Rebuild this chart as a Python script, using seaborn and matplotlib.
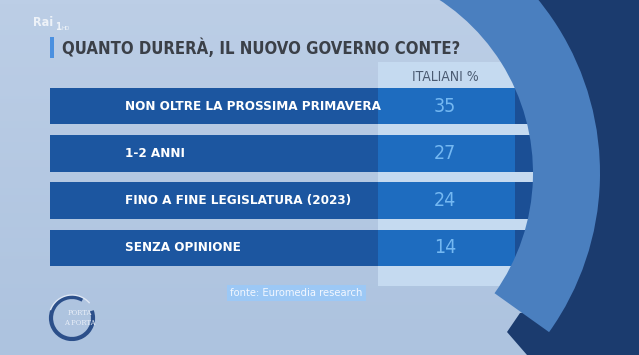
import numpy as np
import pandas as pd
import seaborn as sns
import matplotlib.pyplot as plt
from matplotlib.patches import Wedge, Rectangle, Polygon, Arc

# dati del sondaggio
categories = ['NON OLTRE LA PROSSIMA PRIMAVERA', '1-2 ANNI',
              'FINO A FINE LEGISLATURA (2023)', 'SENZA OPINIONE']
values = [35, 27, 24, 14]
title = 'QUANTO DURERÀ, IL NUOVO GOVERNO CONTE?'
col_header = 'ITALIANI %'
source = 'fonte: Euromedia research'

df = pd.DataFrame({'categoria': categories, 'italiani': values})

W, H = 639, 355
sns.set_theme(style='white')
plt.rcParams['font.family'] = ['DejaVu Sans']
plt.rcParams['font.stretch'] = 'condensed'

fig = plt.figure(figsize=(W / 100, H / 100), dpi=100)

# sfondo in coordinate pixel
bg = fig.add_axes([0, 0, 1, 1], zorder=0)
grad = np.linspace(0, 1, 100).reshape(-1, 1)
bg.imshow(grad, extent=[0, W, H, 0], aspect='auto',
          cmap=sns.blend_palette(['#bccee6', '#adc3df'], as_cmap=True))
bg.add_patch(Rectangle((378, 62), 200, 224, color='#c5daf0', lw=0))
bg.set_xlim(0, W)
bg.set_ylim(H, 0)
bg.axis('off')

# tabella: righe disegnate con seaborn
tab = fig.add_axes([50 / W, 1 - 271.6 / H, (W - 50) / W, 189.2 / H], zorder=1)
tab.patch.set_alpha(0)
n = len(df)
for ext, col in [(520, '#1b4f95'), (465, '#1e6cbf'), (328, '#1c56a0')]:
    sns.barplot(y=df['categoria'], x=[ext] * n, orient='h', color=col,
                width=0.78, saturation=1, linewidth=0, ax=tab)
tab.set_xlim(0, W - 50)
tab.set_ylim(n - 0.5, -0.5)
tab.axis('off')
for i, (lab, v) in enumerate(zip(df['categoria'], df['italiani'])):
    tab.text(75, i, lab, color='white', fontsize=9.6, fontweight='bold',
             va='center', ha='left')
    tab.text(395, i, str(v), color='#74b8f2', fontsize=14,
             va='center', ha='center')

# elementi grafici sopra
ov = fig.add_axes([0, 0, 1, 1], zorder=2)
ov.patch.set_alpha(0)
ov.set_xlim(0, W)
ov.set_ylim(H, 0)
ov.axis('off')
c = (326, 173)
ov.add_patch(Wedge(c, 1000, -90, 35.5, width=750, color='#1b3b6e', lw=0))
ov.add_patch(Polygon([(520, 313), (507, 332), (527, 355), (W, 355), (W, 300)],
                     color='#1b3b6e', lw=0))
ov.add_patch(Wedge(c, 274, -100, 35.5, width=67, color='#4a7fbf', lw=0))

ov.text(445, 77, col_header, color='#4b5b72', fontsize=10, ha='center', va='center')

# titolo
ov.add_patch(Rectangle((50, 37), 4, 21, color='#4a90e0', lw=0))
ov.text(62, 48, title, color='#3b4048', fontsize=12, fontweight='bold',
        ha='left', va='center')
ov.text(33, 22, 'Rai', color='white', alpha=0.75, fontsize=9, fontweight='bold',
        ha='left', va='center')
ov.text(55, 27, '1', color='white', alpha=0.75, fontsize=7, fontweight='bold',
        ha='left', va='center')
ov.text(61, 28, 'HD', color='white', alpha=0.75, fontsize=4.5,
        ha='left', va='center')

# fonte
ov.text(230, 293, source, color='#f2f7ff', fontsize=8, ha='left', va='center',
        bbox=dict(boxstyle='square,pad=0.3', fc='#9cc8f5', ec='none'))

# logo Porta a Porta
ov.add_patch(Arc((72, 318), 42, 42, theta1=-20, theta2=300, color='#2b4f8a', lw=3))
ov.add_patch(Arc((72, 318), 46, 46, theta1=200, theta2=320, color='#dfe8f5', lw=1))
ov.text(80, 313, 'PORTA', family='serif', color='#e8eef8', fontsize=5.5,
        ha='center', va='center')
ov.text(80, 323, 'A PORTA', family='serif', color='#e8eef8', fontsize=5.5,
        ha='center', va='center')

fig.savefig('out.png', dpi=100)
